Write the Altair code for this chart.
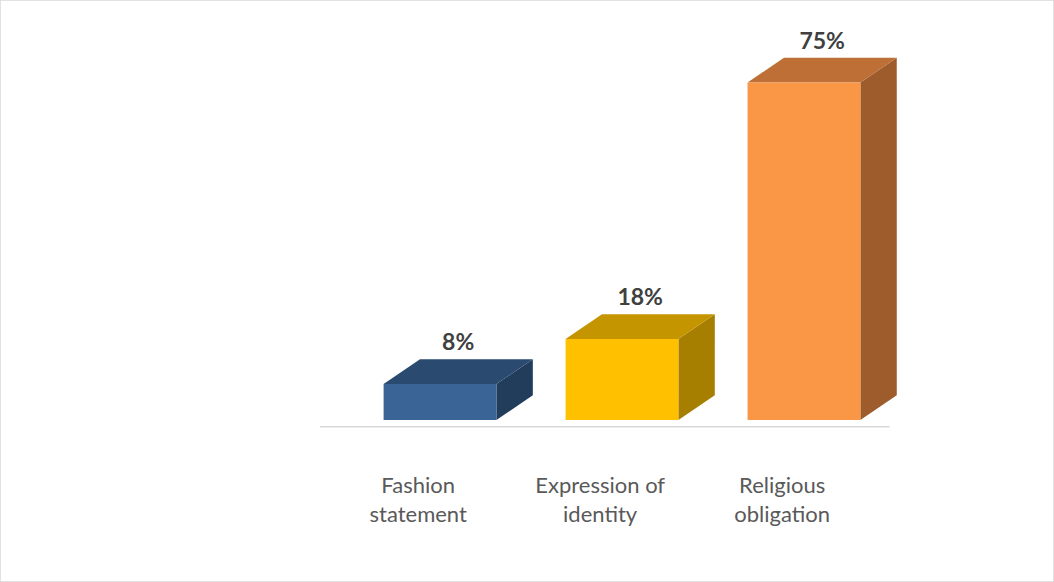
import altair as alt
import pandas as pd

categories = ["Fashion statement", "Expression of identity", "Religious obligation"]
label_lines = [["Fashion", "statement"], ["Expression of", "identity"], ["Religious", "obligation"]]
values = [8, 18, 75]
labels = ["8%", "18%", "75%"]
front_colors = ["#3a6396", "#ffc000", "#f99747"]
top_colors = ["#2a4a6f", "#c59500", "#bd6f36"]
side_colors = ["#223c5c", "#a77f00", "#9e5c2c"]

HALF = 0.31   # half width of the front face (category units)
DX = 0.2      # depth shift to the right (category units)
DY = 5.5      # depth shift upward (percent units)

front, top, side, txt, cat_txt = [], [], [], [], []
for i, (c, v) in enumerate(zip(categories, values)):
    front.append({"cat": c, "x": i - HALF, "x2": i + HALF, "y": 0, "y2": v, "col": front_colors[i]})
    side.append({"cat": c, "x": i + HALF, "lo": 0, "hi": v, "col": side_colors[i]})
    side.append({"cat": c, "x": i + HALF + DX, "lo": DY, "hi": v + DY, "col": side_colors[i]})
    top.append({"cat": c, "y": v, "xl": i - HALF, "xr": i + HALF, "col": top_colors[i]})
    top.append({"cat": c, "y": v + DY, "xl": i - HALF + DX, "xr": i + HALF + DX, "col": top_colors[i]})
    txt.append({"x": i + DX / 2, "y": v + DY, "t": labels[i]})
    cat_txt.append({"x": i - 0.12, "y": -12.5, "t": label_lines[i]})

xs = alt.Scale(domain=[-2.418, 3.374], nice=False, zero=False)
ys = alt.Scale(domain=[-36.0, 93.33], nice=False, zero=False)
noax = None

side_l = alt.Chart(pd.DataFrame(side)).mark_area(orient="vertical").encode(
    x=alt.X("x:Q", scale=xs, axis=noax),
    y=alt.Y("hi:Q", scale=ys, axis=noax),
    y2="lo:Q",
    detail="cat:N",
    color=alt.Color("col:N", scale=None),
)
top_l = alt.Chart(pd.DataFrame(top)).mark_area(orient="horizontal").encode(
    y=alt.Y("y:Q", scale=ys, axis=noax),
    x=alt.X("xl:Q", scale=xs, axis=noax),
    x2="xr:Q",
    detail="cat:N",
    color=alt.Color("col:N", scale=None),
)
front_l = alt.Chart(pd.DataFrame(front)).mark_rect().encode(
    x=alt.X("x:Q", scale=xs, axis=noax),
    x2="x2:Q",
    y=alt.Y("y:Q", scale=ys, axis=noax),
    y2="y2:Q",
    color=alt.Color("col:N", scale=None),
)
floor = alt.Chart(pd.DataFrame({"x": [-0.66], "x2": [2.47], "y": [-1.5]})).mark_rule(
    color="#d9d9d9", strokeWidth=1.5
).encode(
    x=alt.X("x:Q", scale=xs, axis=noax), x2="x2:Q", y=alt.Y("y:Q", scale=ys, axis=noax)
)
val_l = alt.Chart(pd.DataFrame(txt)).mark_text(
    font="Lato", fontSize=23, fontWeight="bold", color="#404040", baseline="bottom", dy=-4
).encode(
    x=alt.X("x:Q", scale=xs, axis=noax), y=alt.Y("y:Q", scale=ys, axis=noax), text="t:N"
)
cat_l = alt.Chart(pd.DataFrame(cat_txt)).mark_text(
    font="Lato", fontSize=22, color="#595959", baseline="top", lineHeight=29
).encode(
    x=alt.X("x:Q", scale=xs, axis=noax), y=alt.Y("y:Q", scale=ys, axis=noax), text="t"
)

chart = alt.layer(floor, side_l, top_l, front_l, val_l, cat_l).properties(
    width=1054, height=582,
    autosize=alt.AutoSizeParams(type="fit", contains="padding"),
    padding=0,
    background="white",
).configure_view(stroke="#d9d9d9", strokeWidth=1.5)

chart.save("out.html", embed_options={"renderer": "svg", "actions": False})
